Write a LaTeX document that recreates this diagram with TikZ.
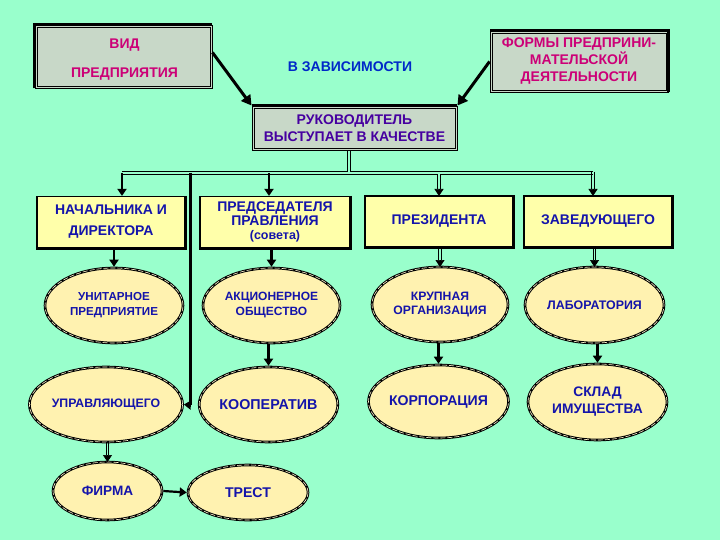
\documentclass[tikz,border=0pt]{standalone}
\usepackage{fontspec}
\setmainfont{Liberation Sans}
\usetikzlibrary{shapes.geometric,arrows.meta}
\definecolor{bg}{RGB}{153,255,204}
\definecolor{grayfill}{RGB}{200,216,200}
\definecolor{yelfill}{RGB}{255,255,170}
\definecolor{ellfill}{RGB}{255,242,176}
\definecolor{magtxt}{RGB}{204,0,119}
\definecolor{bluetxt}{RGB}{0,40,200}
\definecolor{purtxt}{RGB}{70,0,160}
\definecolor{dbluetxt}{RGB}{20,20,170}
\newcommand{\fsz}[2]{\fontsize{#1}{#2}\selectfont\bfseries}
\tikzset{
  graybox/.style={rectangle, fill=grayfill, draw=black, line width=0.9pt, inner sep=0pt, align=center,
     font=\fsz{14}{17}, text=magtxt},
  yelbox/.style={rectangle, fill=yelfill, draw=black, line width=1.2pt, inner sep=0pt, align=center,
     minimum width=148pt, minimum height=51pt, font=\fsz{14}{17}, text=dbluetxt},
  ellnode/.style={ellipse, fill=ellfill, draw=black, line width=2.6pt, inner sep=0pt, align=center,
     font=\fsz{12}{15}, text=dbluetxt,
     postaction={draw=ellfill!60!white, line width=0.6pt, dash pattern=on 5pt off 2pt}},
  thickarr/.style={draw=black, line width=2.2pt, -{Triangle[width=9pt,length=7pt]}},
  thinl/.style={draw=black, line width=0.8pt},
  innerl/.style={draw=black, line width=0.6pt},
  tiponly/.style={draw=black, line width=0.6pt, -{Triangle[width=9pt,length=7pt]}},
  bigarr/.style={draw=black, line width=3pt, -{Triangle[width=11pt,length=10pt]}},
}
% vertical double-shaft arrow: #1 start, #2 tip end, #3 where the tip begins
\newcommand{\dblarrow}[3]{%
  \draw[thinl, transform canvas={xshift=-1.3pt}] (#1) -- (#3);
  \draw[thinl, transform canvas={xshift=1.3pt}] (#1) -- (#3);
  \draw[tiponly] (#3) -- (#2);
}
% inner thin line of a gray box
\newcommand{\innerframe}[1]{%
  \draw[innerl] ([shift={(2.6pt,2.6pt)}]#1.south west) rectangle ([shift={(-2.6pt,-2.6pt)}]#1.north east);
}
\begin{document}
\begin{tikzpicture}[x=1pt,y=-1pt]
\fill[bg] (0,0) rectangle (720,540);
\useasboundingbox (0,0) rectangle (720,540);

% top boxes
\node[graybox, minimum width=177pt, minimum height=63pt] (vid) at (123.5,56.5) {};
\innerframe{vid}
\draw[line width=3.5pt] (vid.south west) -- (vid.north west) -- (vid.north east);
\node[font=\fsz{14}{29}, text=magtxt, align=center] (vidt) at (124.5,59.5) {ВИД\\ПРЕДПРИЯТИЯ};
\node[graybox, minimum width=178pt, minimum height=61pt] (formy) at (579,61.5)
  {ФОРМЫ ПРЕДПРИНИ-\\МАТЕЛЬСКОЙ\\ДЕЯТЕЛЬНОСТИ};
\innerframe{formy}
\draw[line width=3.5pt] (formy.south east) -- (formy.north east) -- (formy.north west);
\node[font=\fsz{14}{17}, text=bluetxt] (zav) at (350,67) {В ЗАВИСИМОСТИ};
\node[graybox, minimum width=205pt, minimum height=44pt, text=purtxt] (ruk) at (354.5,128)
  {РУКОВОДИТЕЛЬ\\ВЫСТУПАЕТ В КАЧЕСТВЕ};
\innerframe{ruk}
\draw[line width=3.5pt] (ruk.north west) -- (ruk.north east);

\draw[bigarr] ([yshift=4pt]vid.east) -- (ruk.north west);
\draw[bigarr] (formy.west) -- (ruk.north east);

% second row boxes
\node[yelbox, font=\fsz{14}{21}] (b1) at (111,222) {НАЧАЛЬНИКА И\\ДИРЕКТОРА};
\node[yelbox, minimum width=150pt, font=\fsz{14}{14}] (b2) at (275,222)
  {ПРЕДСЕДАТЕЛЯ\\ПРАВЛЕНИЯ\\{\fsz{12.5}{14}(совета)}};
\node[yelbox] (b3) at (439,221.5) {ПРЕЗИДЕНТА};
\node[yelbox] (b4) at (598,221.5) {ЗАВЕДУЮЩЕГО};
\foreach \b in {b1,b2,b3,b4}{
  \draw[line width=3pt] (\b.north east) -- (\b.south east) -- (\b.south west);
}

% ellipses
\node[ellnode, minimum width=138pt, minimum height=75pt, font=\fsz{11.6}{15}] (e1) at (114,305.5) {УНИТАРНОЕ\\ПРЕДПРИЯТИЕ};
\node[ellnode, minimum width=137pt, minimum height=75pt] (e2) at (271.5,305.5) {АКЦИОНЕРНОЕ\\ОБЩЕСТВО};
\node[ellnode, minimum width=136pt, minimum height=75pt, font=\fsz{12.2}{14}] (e3) at (440,304.5) {КРУПНАЯ\\ОРГАНИЗАЦИЯ};
\node[ellnode, minimum width=139pt, minimum height=76pt, font=\fsz{12.4}{15}] (e4) at (594.5,305) {ЛАБОРАТОРИЯ};
\node[ellnode, minimum width=138pt, minimum height=75pt, font=\fsz{12.3}{15}] (e5) at (106,404.5) {УПРАВЛЯЮЩЕГО};
\node[ellnode, minimum width=137pt, minimum height=75pt, font=\fsz{14.3}{17}] (e6) at (268.5,404.5) {КООПЕРАТИВ};
\node[ellnode, minimum width=139pt, minimum height=73pt, font=\fsz{14.1}{17}] (e7) at (438.5,401.5) {КОРПОРАЦИЯ};
\node[ellnode, minimum width=139pt, minimum height=76pt, font=\fsz{13.8}{17}] (e8) at (597.5,402) {СКЛАД\\ИМУЩЕСТВА};
\node[ellnode, minimum width=109pt, minimum height=58pt, font=\fsz{13.6}{17}] (e9) at (107.5,491) {ФИРМА};
\node[ellnode, minimum width=120pt, minimum height=55pt, font=\fsz{14.1}{17}] (e10) at (248,492.5) {ТРЕСТ};

% bus
\coordinate (bdrop) at (349,150.6);
\coordinate (bj) at (349,171.7);
\coordinate (bl) at (122,173);
\coordinate (br) at (593,173);
\coordinate (c2) at (269,173);
\coordinate (c3) at (439,173);
\coordinate (vtop) at (190,173);
\coordinate (vbot) at (190,405);
\draw[thinl, transform canvas={xshift=-1.3pt}] (bdrop) -- (bj);
\draw[thinl, transform canvas={xshift=1.3pt}] (bdrop) -- (bj);
\draw[thinl, transform canvas={yshift=1.3pt}] (bl) -- (br);
\draw[thinl, transform canvas={yshift=-1.3pt}] (bl) -- (br);
% open the junction of the drop and the bus
\fill[bg] (348.1,171.1) rectangle (349.9,172.6);
\draw[thickarr] (bl) -- (bl |- b1.north);
\draw[thickarr] (c2) -- (c2 |- b2.north);
% double arrows to b3, b4
\coordinate (t3) at (439,196);   \coordinate (s3) at (439,189);
\coordinate (t4) at (593,196);   \coordinate (s4) at (593,189);
\coordinate (k3) at (439,174.3);  \coordinate (k4) at (593,171.7);
\dblarrow{k3}{t3}{s3}
\dblarrow{k4}{t4}{s4}
\fill[bg] (438.1,173.4) rectangle (439.9,174.9);
\fill[bg] (592.1,172.1) rectangle (593.9,173.9);
\draw[line width=3pt] (vtop) -- (vbot);
\draw[thickarr] (vbot) -- (e5.east);

% box -> ellipse
\draw[thickarr] (e1.north |- b1.south) -- (e1.north);
\draw[thickarr] (e2.north |- b2.south) -- (e2.north);
\coordinate (u3) at (440,247); \coordinate (v3) at (440,267); \coordinate (w3) at (440,260);
\coordinate (u4) at (594.5,247); \coordinate (v4) at (594.5,267); \coordinate (w4) at (594.5,260);
\dblarrow{u3}{v3}{w3}
\dblarrow{u4}{v4}{w4}

% ellipse -> ellipse
\draw[thickarr] (e6.north |- e2.south) -- (e6.north);
\draw[thickarr] (e7.north |- e3.south) -- (e7.north);
\draw[thickarr] (e8.north |- e4.south) -- (e8.north);
\coordinate (u5) at (107.5,442); \coordinate (v5) at (107.5,462); \coordinate (w5) at (107.5,455);
\dblarrow{u5}{v5}{w5}
\draw[thickarr] (e9.east) -- (e10.west);
\end{tikzpicture}
\end{document}
